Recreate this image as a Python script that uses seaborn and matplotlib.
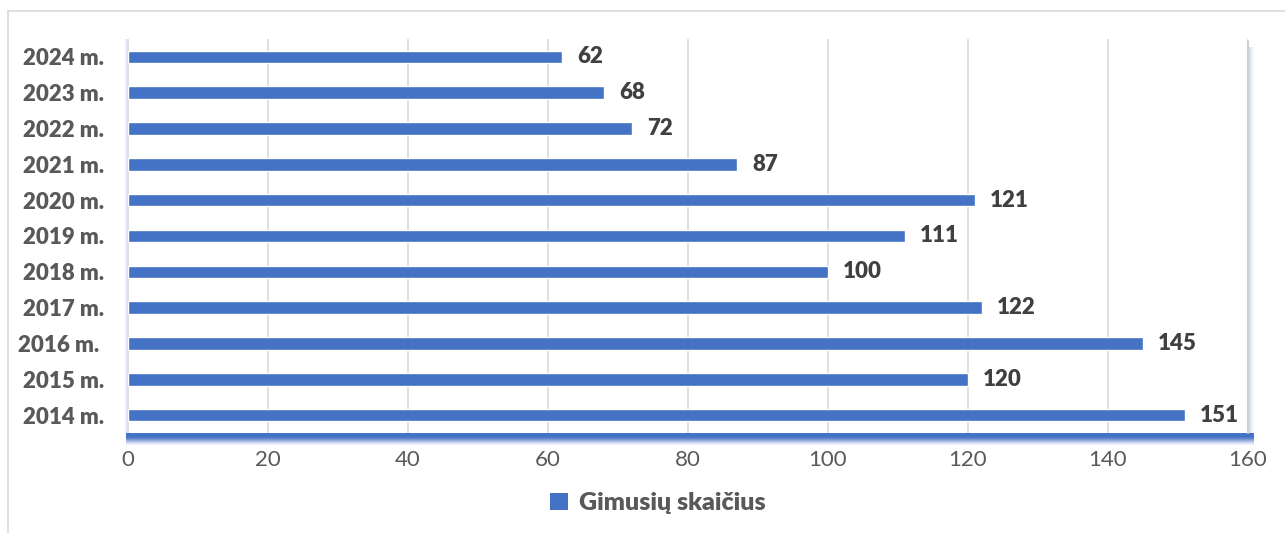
import numpy as np
import pandas as pd
import matplotlib
matplotlib.use("Agg")
import matplotlib.pyplot as plt
from matplotlib.patches import Patch, Rectangle
from matplotlib.lines import Line2D
import seaborn as sns

years = ["2024 m.", "2023 m.", "2022 m.", "2021 m.", "2020 m.", "2019 m.",
         "2018 m.", "2017 m.", "2016 m. ", "2015 m.", "2014 m."]
births = [62, 68, 72, 87, 121, 111, 100, 122, 145, 120, 151]
series_name = "Gimusių skaičius"
x_ticks = [0, 20, 40, 60, 80, 100, 120, 140, 160]

BLUE = "#4472C4"
W, H = 1285, 533

sns.set_theme(style="white")
plt.rcParams["font.family"] = ["Lato", "DejaVu Sans"]

df = pd.DataFrame({"year": years, "births": births})

fig = plt.figure(figsize=(W / 100, H / 100), dpi=100)
L, R, T, B = 128, 1248, 39, 433
ax = fig.add_axes([L / W, 1 - B / H, (R - L) / W, (B - T) / H])

sns.barplot(data=df, x="births", y="year", order=years, color=BLUE,
            saturation=1, width=0.35, ax=ax, zorder=3)
ax.set_xlim(0, 160)
ax.set_xticks(x_ticks)
ax.set_xticklabels([str(t) for t in x_ticks], fontsize=16, color="#595959")
ax.set_yticks(range(len(years)))
ax.set_yticklabels(years, fontsize=16, fontweight="heavy", color="#595959")
ax.tick_params(axis="x", length=0, pad=12)
ax.tick_params(axis="y", length=0, pad=17)
ax.set_xlabel("")
ax.set_ylabel("")
ax.grid(axis="x", color="#D9D9D9", linewidth=1.2, zorder=0)
for s in ax.spines.values():
    s.set_visible(False)

for container in ax.containers:
    ax.bar_label(container, labels=[str(v) for v in births], padding=11,
                 fontsize=16, fontweight="heavy", color="#404040")


def px_rect(x0, y0, w, h, alpha):
    fig.add_artist(Rectangle((x0 / W, 1 - (y0 + h) / H), w / W, h / H,
                             transform=fig.transFigure, facecolor=BLUE,
                             edgecolor="none", alpha=alpha, zorder=1))


# bottom shadow band of the plot area
band_alpha = [1.0, 1.0, 1.0, 1.0, 0.95, 0.85, 0.72, 0.58, 0.44, 0.3, 0.18, 0.08]
for i, a in enumerate(band_alpha):
    px_rect(L - 2, B + i, R - L + 8, 1, a)
# left glow
for i, a in enumerate([0.22, 0.14, 0.08, 0.04]):
    px_rect(L - 1 - i, T, 1, B - T, a)
# right glow
for i, a in enumerate([0.25, 0.18, 0.12, 0.07, 0.03]):
    px_rect(R + 1 + i, T + 8, 1, B - T - 4, a)

# outer chart frame (partly cropped)
fig.add_artist(Line2D([8 / W, 8 / W], [0, 1 - 11 / H], transform=fig.transFigure,
                      color="#D9D9D9", linewidth=1.2))
fig.add_artist(Line2D([8 / W, 1], [1 - 11 / H, 1 - 11 / H], transform=fig.transFigure,
                      color="#D9D9D9", linewidth=1.2))
fig.add_artist(Line2D([R / W, R / W], [1 - B / H, 1 - (T + 2) / H], transform=fig.transFigure,
                      color="#D0D0D0", linewidth=1.5))

handle = Patch(facecolor=BLUE, edgecolor="none")
fig.legend([handle], [series_name], loc="center", bbox_to_anchor=(658 / W, 1 - 503 / H),
           frameon=False, handlelength=0.7, handleheight=0.7, handletextpad=0.45,
           prop={"size": 18, "weight": "heavy"}, labelcolor="#595959")

fig.savefig("out.png", dpi=100)
